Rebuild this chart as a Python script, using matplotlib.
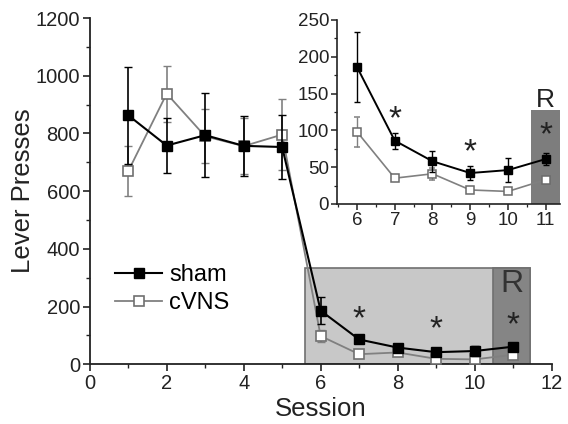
import numpy as np
import matplotlib
matplotlib.use('Agg')
import matplotlib.pyplot as plt
from matplotlib.patches import Rectangle
from matplotlib.ticker import MultipleLocator

plt.rcParams['font.family'] = ['Liberation Sans', 'DejaVu Sans']

# Data
sessions = [1, 2, 3, 4, 5, 6, 7, 8, 9, 10, 11]
sham = [863, 758, 794, 757, 753, 186, 86, 58, 42, 46, 61]
sham_err = [168, 95, 145, 105, 110, 47, 11, 14, 10, 16, 8]
cvns = [669, 938, 790, 756, 796, 98, 35, 41, 19, 17, 33]
cvns_err = [86, 97, 93, 98, 124, 20, 4, 8, 3, 3, 5]

star_sessions = [7, 9, 11]
star_main_y = [155, 118, 132]
star_inset_y = [114, 70, 92]

gray = '#808080'
light = '#c8c8c8'
dark = '#858585'
ink = '#222222'

fig = plt.figure(figsize=(5.68, 4.24), dpi=100)
ax = fig.add_axes([0.158, 0.1408, 0.813, 0.8167])

# shaded extinction box + reinstatement region
ax.add_patch(Rectangle((5.6, 0), 5.85, 335, facecolor=light, edgecolor='#707070', lw=1.2, zorder=1))
ax.add_patch(Rectangle((10.48, 0), 0.97, 335, facecolor=dark, edgecolor='#707070', lw=1.2, zorder=1.1))
ax.text(10.96, 251, 'R', fontsize=23, color='#333333', ha='center', va='baseline', zorder=2)

ax.errorbar(sessions, sham, yerr=sham_err, fmt='none', ecolor='black', capsize=3, elinewidth=1.2, zorder=4)
ax.plot(sessions, sham, color='black', lw=1.5, marker='s', ms=7.5, mfc='black', mec='black',
        label='sham', zorder=4)
ax.errorbar(sessions, cvns, yerr=cvns_err, fmt='none', ecolor=gray, capsize=3, elinewidth=1.2, zorder=3)
ax.plot(sessions, cvns, color=gray, lw=1.3, marker='s', ms=7.5, mfc='white', mec='#707070', mew=1.2,
        label='cVNS', zorder=3)
for s, y in zip(star_sessions, star_main_y):
    ax.text(s, y, '*', fontsize=24, ha='center', va='center', color=ink, zorder=5)

ax.set_xlim(0, 12)
ax.set_ylim(0, 1200)
ax.xaxis.set_major_locator(MultipleLocator(2))
ax.xaxis.set_minor_locator(MultipleLocator(1))
ax.yaxis.set_major_locator(MultipleLocator(200))
ax.yaxis.set_minor_locator(MultipleLocator(100))
for sp in ['top', 'right']:
    ax.spines[sp].set_visible(False)
for sp in ['left', 'bottom']:
    ax.spines[sp].set_linewidth(1.3)
    ax.spines[sp].set_color(ink)
ax.tick_params(which='major', direction='out', length=5, width=1.2, labelsize=14.5, colors=ink, pad=2)
ax.tick_params(which='minor', direction='out', length=3, width=1.0, colors=ink)
ax.set_xlabel('Session', fontsize=18.5, color=ink)
ax.set_ylabel('Lever Presses', fontsize=18.5, color=ink)
ax.xaxis.set_label_coords(0.5, -0.095)
ax.yaxis.set_label_coords(-0.118, 0.5)

ax.legend(loc='center left', bbox_to_anchor=(0.055, 0.217), frameon=False, fontsize=17,
          handlelength=2.0, handletextpad=0.3, labelspacing=0.28, borderpad=0, borderaxespad=0)

# inset with the extinction sessions
ins = fig.add_axes([0.594, 0.519, 0.392, 0.434])
ins.add_patch(Rectangle((10.62, 0), 1.0, 128, facecolor='#7d7d7d', edgecolor='none', zorder=1))
ins.text(11, 132, 'R', fontsize=19, color=ink, ha='center', va='baseline', zorder=2)
ins.errorbar(sessions[5:], sham[5:], yerr=sham_err[5:], color='black', lw=1.4, marker='s', ms=6,
             mfc='black', mec='black', capsize=2.5, elinewidth=1.0, zorder=4)
ins.errorbar(sessions[5:], cvns[5:], yerr=cvns_err[5:], color=gray, lw=1.2, marker='s', ms=6,
             mfc='white', mec='#6a6a6a', mew=1.1, capsize=2.5, elinewidth=1.0, zorder=3)
for s, y in zip(star_sessions, star_inset_y):
    ins.text(s, y, '*', fontsize=24, ha='center', va='center', color=ink, zorder=5)
ins.set_xlim(5.48, 11.38)
ins.set_ylim(0, 250)
ins.xaxis.set_major_locator(MultipleLocator(1))
ins.xaxis.set_minor_locator(MultipleLocator(0.5))
ins.yaxis.set_major_locator(MultipleLocator(50))
ins.yaxis.set_minor_locator(MultipleLocator(25))
for sp in ['top', 'right']:
    ins.spines[sp].set_visible(False)
for sp in ['left', 'bottom']:
    ins.spines[sp].set_linewidth(1.2)
    ins.spines[sp].set_color(ink)
ins.patch.set_alpha(0)
ins.tick_params(which='major', direction='out', length=4, width=1.1, labelsize=13.5, colors=ink, pad=2)
ins.tick_params(which='minor', direction='out', length=2.5, width=0.9, colors=ink)

fig.savefig('out.png', dpi=100)
